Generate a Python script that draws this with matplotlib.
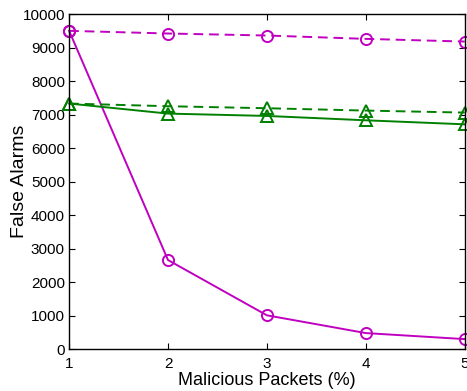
import matplotlib
matplotlib.use('Agg')
import matplotlib.pyplot as plt

plt.rcParams['font.family'] = ['Liberation Sans', 'DejaVu Sans']

x = [1, 2, 3, 4, 5]
circ_dashed = [9500, 9420, 9360, 9260, 9180]
circ_solid = [9500, 2660, 1010, 480, 300]
tri_dashed = [7330, 7250, 7190, 7120, 7060]
tri_solid = [7330, 7030, 6960, 6830, 6710]

magenta = '#c000c0'
green = '#008000'
dash = (5, 3)

fig = plt.figure(figsize=(4.67, 3.91), dpi=100)
ax = fig.add_axes([0.148, 0.107, 0.847, 0.857])

ax.plot(x, circ_dashed, linestyle='--', dashes=dash, color=magenta, linewidth=1.4,
        marker='o', markersize=8, markerfacecolor='none', markeredgewidth=1.4, clip_on=False)
ax.plot(x, circ_solid, linestyle='-', color=magenta, linewidth=1.4,
        marker='o', markersize=8, markerfacecolor='none', markeredgewidth=1.4, clip_on=False)
ax.plot(x, tri_dashed, linestyle='--', dashes=dash, color=green, linewidth=1.4,
        marker='^', markersize=8, markerfacecolor='none', markeredgewidth=1.4, clip_on=False)
ax.plot(x, tri_solid, linestyle='-', color=green, linewidth=1.4,
        marker='^', markersize=8, markerfacecolor='none', markeredgewidth=1.4, clip_on=False)

ax.set_xlim(1, 5)
ax.set_ylim(0, 10000)
ax.set_xticks(x)
ax.set_yticks(range(0, 10001, 1000))
ax.tick_params(direction='in', top=True, right=True, labelsize=11, length=4)
ax.tick_params(axis='x', pad=5.5)
ax.tick_params(axis='y', pad=3)
ax.set_xlabel('Malicious Packets (%)', fontsize=13, labelpad=1)
ax.set_ylabel('False Alarms', fontsize=14)
ax.yaxis.set_label_coords(-0.103, 0.5)
for s in ax.spines.values():
    s.set_linewidth(1.0)

fig.savefig('out.png', dpi=100)
